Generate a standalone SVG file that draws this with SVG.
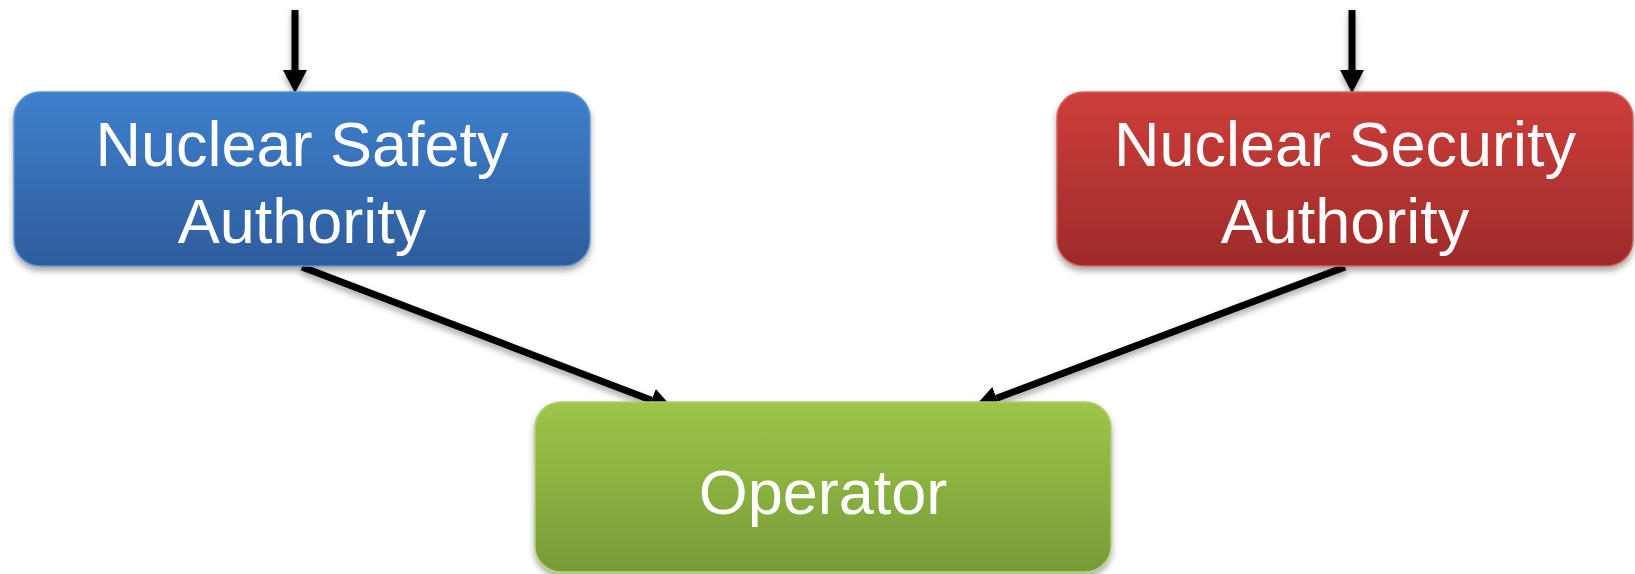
<svg xmlns="http://www.w3.org/2000/svg" width="1635" height="574" viewBox="0 0 1635 574">
<style>
.lbl{font-family:"Liberation Sans",Arial,sans-serif;font-size:63px;fill:#ffffff;text-anchor:middle}
.box{stroke-width:1.5}
.conn{stroke:#000;stroke-width:7;fill:none}
</style>
<defs>
<linearGradient id="gBlue" x1="0" y1="0" x2="0" y2="1">
<stop offset="0" stop-color="#3e80cd"/><stop offset="1" stop-color="#2e5c9c"/>
</linearGradient>
<linearGradient id="gRed" x1="0" y1="0" x2="0" y2="1">
<stop offset="0" stop-color="#cd3e3b"/><stop offset="1" stop-color="#9d2b29"/>
</linearGradient>
<linearGradient id="gGreen" x1="0" y1="0" x2="0" y2="1">
<stop offset="0" stop-color="#9dc64a"/><stop offset="1" stop-color="#789a37"/>
</linearGradient>
<filter id="sh" x="-10%" y="-10%" width="120%" height="130%">
<feDropShadow dx="0" dy="4" stdDeviation="3" flood-color="#000" flood-opacity="0.35"/>
</filter>
<marker id="ah" markerUnits="userSpaceOnUse" markerWidth="24" markerHeight="24" refX="0" refY="12" orient="auto">
<path d="M0,0 L23,12 L0,24 z" fill="#000"/>
</marker>
</defs>
<g id="connectors" filter="url(#sh)">
<path class="conn" d="M295,10 L295,70" marker-end="url(#ah)"/>
<path class="conn" d="M1352,10 L1352,70" marker-end="url(#ah)"/>
<path class="conn" d="M302,267 L651.5,400.2" marker-end="url(#ah)"/>
<path class="conn" d="M1345,267 L996.6,398.2" marker-end="url(#ah)"/>
</g>
<g id="node-safety">
<rect class="box" x="14" y="92" width="576" height="174" rx="26" fill="url(#gBlue)" stroke="#5b93d4" filter="url(#sh)"/>
<text class="lbl" x="302" y="166">Nuclear Safety</text>
<text class="lbl" x="302" y="243">Authority</text>
</g>
<g id="node-security">
<rect class="box" x="1057" y="92" width="576" height="174" rx="26" fill="url(#gRed)" stroke="#d8615e" filter="url(#sh)"/>
<text class="lbl" x="1345" y="166">Nuclear Security</text>
<text class="lbl" x="1345" y="243">Authority</text>
</g>
<g id="node-operator">
<rect class="box" x="535" y="402" width="576" height="170" rx="26" fill="url(#gGreen)" stroke="#aed16a" filter="url(#sh)"/>
<text class="lbl" x="823" y="514">Operator</text>
</g>
</svg>
